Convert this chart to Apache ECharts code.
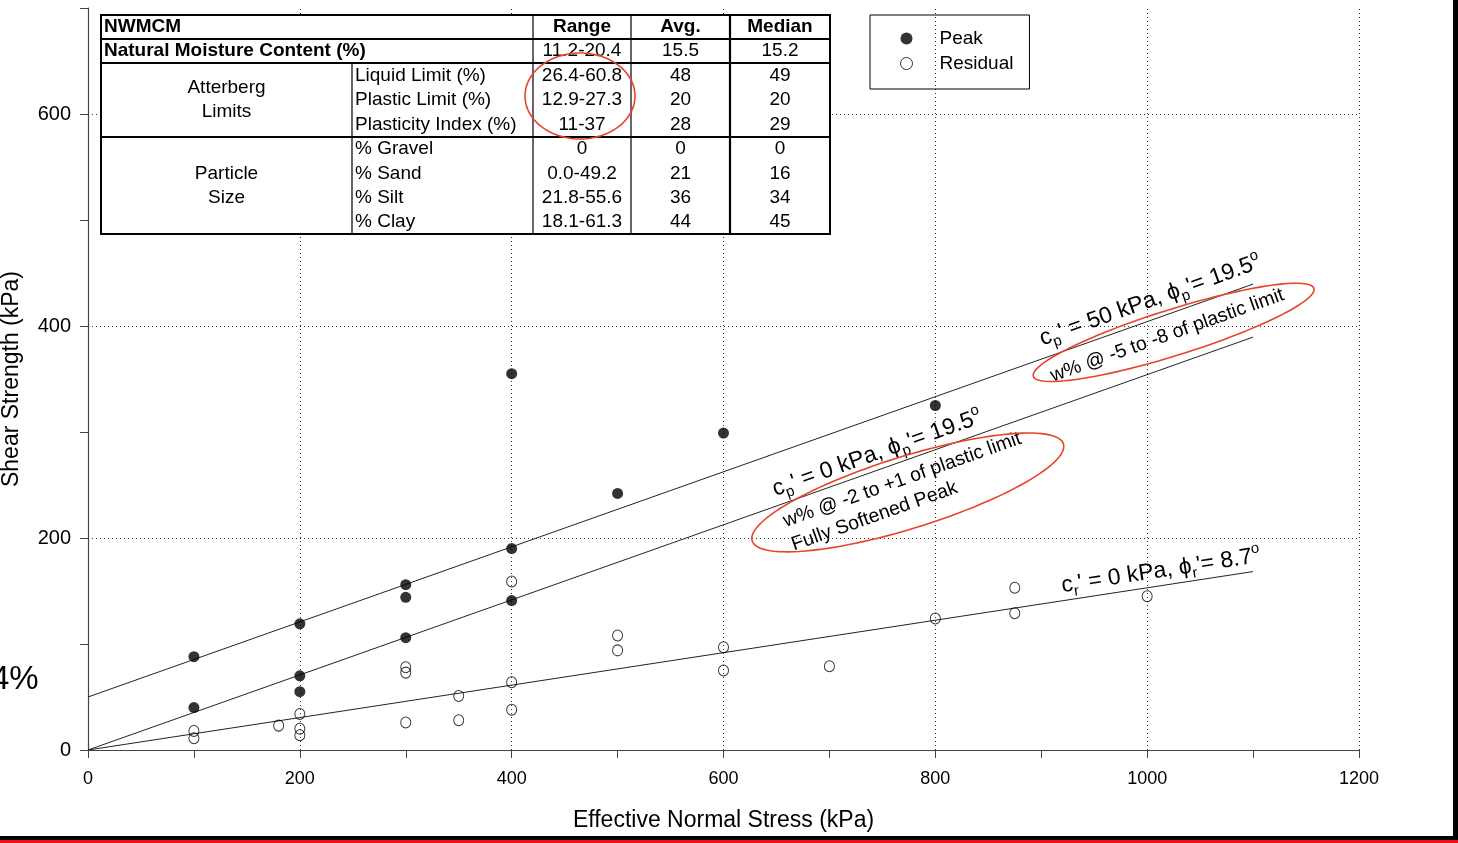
<!DOCTYPE html>
<html>
<head>
<meta charset="utf-8">
<script src="https://cdn.jsdelivr.net/npm/echarts@6/dist/echarts.min.js"></script>
<style>
  html, body { margin: 0; padding: 0; background: #fff; }
  #chart { width: 1458px; height: 843px; }
</style>
</head>
<body>
<div id="chart"></div>
<script>
// ---- Direct shear results: effective normal stress (kPa) vs shear strength (kPa) ----
const peakStress       = [100, 100, 200, 200, 200, 300, 300, 300, 400, 400, 400, 500, 600, 800];
const peakStrength     = [88, 40, 119, 70, 55, 156, 144, 106, 355, 190, 141, 242, 299, 325];
const residualStress   = [100, 100, 180, 200, 200, 200, 300, 300, 300, 350, 350, 400, 400, 400, 500, 500, 600, 600, 700, 800, 875, 875, 1000];
const residualStrength = [18, 11, 23, 34, 20, 14, 78, 73, 26, 51, 28, 159, 64, 38, 108, 94, 97, 75, 79, 124, 153, 129, 145];

// Strength envelopes (cohesion kPa, friction angle deg), drawn from 0 to envelopeEnd
const envelopeCohesion = [50, 0, 0];
const envelopeAngle    = [19.5, 19.5, 8.7];
const envelopeEnd      = 1100;

// Axis ticks
const xGridValues = [200, 400, 600, 800, 1000, 1200];
const yGridValues = [200, 400, 600];

// NWMCM index properties table
const tableHeader      = ['NWMCM', 'Range', 'Avg.', 'Median'];
const moistureRow      = ['Natural Moisture Content (%)', '11.2-20.4', '15.5', '15.2'];
const atterbergGroup   = 'Atterberg\nLimits';
const atterbergProps   = ['Liquid Limit (%)', 'Plastic Limit (%)', 'Plasticity Index (%)'];
const atterbergRange   = ['26.4-60.8', '12.9-27.3', '11-37'];
const atterbergAvg     = ['48', '20', '28'];
const atterbergMedian  = ['49', '20', '29'];
const particleGroup    = 'Particle\nSize';
const particleProps    = ['% Gravel', '% Sand', '% Silt', '% Clay'];
const particleRange    = ['0', '0.0-49.2', '21.8-55.6', '18.1-61.3'];
const particleAvg      = ['0', '21', '36', '44'];
const particleMedian   = ['0', '16', '34', '45'];

const FONT = '"Liberation Sans", Arial, Helvetica, sans-serif';
const RED = '#e8432d';

const chart = echarts.init(document.getElementById('chart'), null, { renderer: 'canvas' });

function envelopePoints(i) {
  const slope = Math.tan(envelopeAngle[i] * Math.PI / 180);
  return [[0, envelopeCohesion[i]], [envelopeEnd, envelopeCohesion[i] + envelopeEnd * slope]];
}

const gridSeries = {
  type: 'line',
  name: 'grid',
  data: [],
  silent: true,
  z: 1,
  markLine: {
    silent: true,
    z: 1,
    symbol: ['none', 'none'],
    label: { show: false },
    emphasis: { disabled: true },
    lineStyle: { type: [1, 3], color: '#333', width: 1 },
    data: xGridValues.map(v => ({ xAxis: v })).concat(yGridValues.map(v => ({ yAxis: v })))
  }
};

const envelopeSeries = envelopeCohesion.map((c, i) => ({
  type: 'line',
  name: 'envelope' + i,
  data: envelopePoints(i),
  symbol: 'none',
  silent: true,
  z: 2,
  lineStyle: { color: '#222', width: 1 }
}));

const option = {
  animation: false,
  backgroundColor: '#fff',
  textStyle: { fontFamily: FONT, color: '#000' },
  grid: { left: 88, right: 99, top: 8, bottom: 93, containLabel: false, outerBoundsMode: 'none' },
  xAxis: {
    type: 'value', min: 0, max: 1200, interval: 100,
    name: 'Effective Normal Stress (kPa)',
    nameLocation: 'middle', nameGap: 59,
    nameTextStyle: { fontSize: 23, color: '#000', fontFamily: FONT },
    axisLine: { lineStyle: { color: '#444', width: 1.2 } },
    axisTick: { show: true, length: 8, lineStyle: { color: '#444', width: 1 } },
    axisLabel: { margin: 20, fontSize: 18, color: '#000', fontFamily: FONT,
      formatter: v => (v % 200 === 0 ? String(v) : '') },
    splitLine: { show: false }
  },
  yAxis: {
    type: 'value', min: 0, max: 700, interval: 100,
    name: 'Shear Strength (kPa)',
    nameLocation: 'middle', nameGap: 65,
    nameTextStyle: { fontSize: 23, color: '#000', fontFamily: FONT },
    axisLine: { show: true, lineStyle: { color: '#444', width: 1.2 } },
    axisTick: { show: true, length: 8, lineStyle: { color: '#444', width: 1 } },
    axisLabel: { margin: 17, fontSize: 20, color: '#000', fontFamily: FONT,
      formatter: v => (v % 200 === 0 && v <= 600 ? String(v) : '') },
    splitLine: { show: false }
  },
  legend: {
    left: 870, top: 15, orient: 'vertical',
    borderColor: '#000', borderWidth: 1,
    padding: [14, 16, 16, 30],
    itemGap: 6, itemWidth: 12, itemHeight: 12,
    selectedMode: false,
    textStyle: { fontSize: 19, color: '#000', fontFamily: FONT, padding: [0, 0, 0, 22] },
    data: [
      { name: 'Peak', icon: 'circle', itemStyle: { color: '#000' } },
      { name: 'Residual', icon: 'circle', itemStyle: { color: '#fff', borderColor: '#000', borderWidth: 1 } }
    ]
  },
  series: [
    gridSeries,
    ...envelopeSeries,
    {
      type: 'scatter', name: 'Peak', z: 4,
      data: peakStress.map((x, i) => [x, peakStrength[i]]),
      symbol: 'circle', symbolSize: 11,
      itemStyle: { color: '#000' }
    },
    {
      type: 'scatter', name: 'Residual', z: 3,
      data: residualStress.map((x, i) => [x, residualStrength[i]]),
      symbol: 'circle', symbolSize: [10, 11],
      itemStyle: { color: 'rgba(0,0,0,0)', borderColor: '#000', borderWidth: 1 }
    }
  ]
};

chart.setOption(option);

// ---------- overlay drawing: table, annotations, frame ----------
const toPx = p => chart.convertToPixel({ gridIndex: 0 }, p);

function envelopeAngleRad(i) {
  const pts = envelopePoints(i).map(toPx);
  return Math.atan2(pts[0][1] - pts[1][1], pts[1][0] - pts[0][0]);
}

function ellipse(cx, cy, a, b, deg, stroke) {
  const th = deg * Math.PI / 180;
  const pts = [];
  for (let k = 0; k < 120; k++) {
    const t = 2 * Math.PI * k / 120;
    pts.push([
      cx + a * Math.cos(t) * Math.cos(th) + b * Math.sin(t) * Math.sin(th),
      cy - a * Math.cos(t) * Math.sin(th) + b * Math.sin(t) * Math.cos(th)
    ]);
  }
  return { type: 'polygon', z: 120, silent: true, shape: { points: pts },
    style: { fill: 'transparent', stroke: stroke, lineWidth: 1.6 } };
}

function txt(x, y, text, o) {
  o = o || {};
  return {
    type: 'text', x: x, y: y, z: 110, silent: true, rotation: o.rotation || 0,
    style: {
      text: text,
      fill: '#000',
      fontSize: o.fontSize || 19,
      fontWeight: o.bold ? 'bold' : 'normal',
      fontFamily: FONT,
      lineHeight: o.lineHeight,
      rich: o.rich,
      align: o.align || 'left', textAlign: o.align || 'left',
      verticalAlign: 'middle', textVerticalAlign: 'middle'
    }
  };
}

function hline(x1, x2, y, w) {
  return { type: 'line', z: 105, silent: true, shape: { x1: x1, y1: y, x2: x2, y2: y },
    style: { stroke: '#000', lineWidth: w } };
}
function vline(x, y1, y2, w) {
  return { type: 'line', z: 105, silent: true, shape: { x1: x, y1: y1, x2: x, y2: y2 },
    style: { stroke: '#000', lineWidth: w } };
}

function buildTable() {
  const L = 101, R = 830, T = 15;
  const cols = [352, 533, 631, 730];
  const rows = [39, 63, 137, 234];
  const els = [];
  els.push({ type: 'rect', z: 100, silent: true,
    shape: { x: L, y: T, width: R - L, height: rows[3] - T },
    style: { fill: '#fff', stroke: '#000', lineWidth: 2 } });
  els.push(hline(L, R, rows[0], 2), hline(L, R, rows[1], 2), hline(L, R, rows[2], 2));
  els.push(vline(cols[1], T, rows[3], 1.2), vline(cols[2], T, rows[3], 1.2),
           vline(cols[3], T, rows[3], 2.2), vline(cols[0], rows[1], rows[3], 1.2));

  const cx = [(cols[1] + cols[2]) / 2, (cols[2] + cols[3]) / 2, (cols[3] + R) / 2];
  const yHead = (T + rows[0]) / 2, yMoist = (rows[0] + rows[1]) / 2;
  els.push(txt(L + 3, yHead, tableHeader[0], { bold: true }));
  for (let j = 1; j < 4; j++) els.push(txt(cx[j - 1], yHead, tableHeader[j], { bold: true, align: 'center' }));
  els.push(txt(L + 3, yMoist, moistureRow[0], { bold: true }));
  for (let j = 1; j < 4; j++) els.push(txt(cx[j - 1], yMoist, moistureRow[j], { align: 'center' }));

  function block(top, bottom, group, props, rng, avg, med) {
    const h = (bottom - top) / props.length;
    els.push(txt((L + cols[0]) / 2, (top + bottom) / 2, group, { align: 'center', lineHeight: 24 }));
    props.forEach((p, i) => {
      const y = top + h * (i + 0.5);
      els.push(txt(cols[0] + 3, y, p));
      els.push(txt(cx[0], y, rng[i], { align: 'center' }));
      els.push(txt(cx[1], y, avg[i], { align: 'center' }));
      els.push(txt(cx[2], y, med[i], { align: 'center' }));
    });
  }
  block(rows[1], rows[2], atterbergGroup, atterbergProps, atterbergRange, atterbergAvg, atterbergMedian);
  block(rows[2], rows[3], particleGroup, particleProps, particleRange, particleAvg, particleMedian);
  els.push(ellipse(580, 96, 55, 43, 0, RED));
  return els;
}

const envRich = {
  n: { fontSize: 23, fontFamily: FONT, fill: '#000', lineHeight: 30, verticalAlign: 'middle' },
  s: { fontSize: 15, fontFamily: FONT, fill: '#000', lineHeight: 15, verticalAlign: 'bottom' },
  u: { fontSize: 15, fontFamily: FONT, fill: '#000', lineHeight: 15, verticalAlign: 'top' }
};

function buildAnnotations() {
  const els = [];
  const aPeak = envelopeAngleRad(0);
  const aSoft = envelopeAngleRad(1);
  const aRes = envelopeAngleRad(2);

  let p = toPx([1003, 424]);
  els.push(txt(p[0], p[1], "{n|c}{s|p}{n|' = 50 kPa, ϕ}{s|p}{n|'= 19.5}{u|o}",
    { rotation: aPeak, align: 'center', rich: envRich }));
  p = toPx([1019, 391]);
  els.push(txt(p[0], p[1], 'w% @ -5 to -8 of plastic limit', { rotation: aPeak, align: 'center', fontSize: 19.5 }));

  p = toPx([745, 280]);
  els.push(txt(p[0], p[1], "{n|c}{s|p}{n|' = 0 kPa, ϕ}{s|p}{n|'= 19.5}{u|o}",
    { rotation: aSoft, align: 'center', rich: envRich }));
  p = toPx([661, 204]);
  els.push(txt(p[0], p[1], 'w% @ -2 to +1 of plastic limit\nFully Softened Peak',
    { rotation: aSoft, align: 'left', fontSize: 19.5, lineHeight: 25 }));

  p = toPx([1013, 169]);
  els.push(txt(p[0], p[1], "{n|c}{s|r}{n|' = 0 kPa, ϕ}{s|r}{n|'= 8.7}{u|o}",
    { rotation: aRes, align: 'center', rich: envRich }));

  let c = toPx([1025, 394]);
  els.push(ellipse(c[0], c[1], 147, 23, 17.4, RED));
  c = toPx([774, 243]);
  els.push(ellipse(c[0], c[1], 163, 36, 17.3, RED));
  return els;
}

function buildFrame() {
  return [
    { type: 'text', x: -9, y: 680, z: 90, silent: true,
      style: { text: '4%', fontSize: 33, fontFamily: FONT, fill: '#000', verticalAlign: 'middle', textVerticalAlign: 'middle' } },
    { type: 'rect', z: 200, silent: true, shape: { x: 1453, y: 0, width: 5, height: 840 }, style: { fill: '#000' } },
    { type: 'rect', z: 200, silent: true, shape: { x: 0, y: 836, width: 1458, height: 4 }, style: { fill: '#000' } },
    { type: 'rect', z: 200, silent: true, shape: { x: 0, y: 840, width: 1458, height: 3 }, style: { fill: '#ee1111' } }
  ];
}

chart.setOption({
  graphic: { elements: buildTable().concat(buildAnnotations(), buildFrame()) }
});
</script>
</body>
</html>
